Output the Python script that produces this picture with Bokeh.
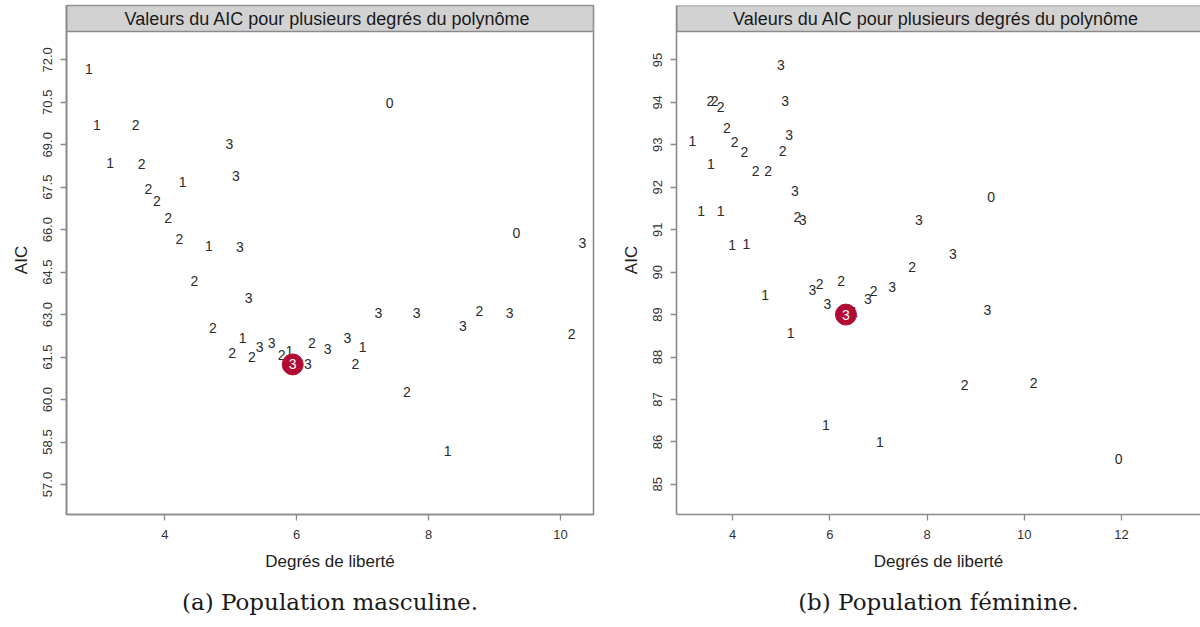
from bokeh.plotting import figure
from bokeh.layouts import row
from bokeh.models import FixedTicker, Title, PrintfTickFormatter
from bokeh.core.properties import value
from bokeh.embed import file_html
from bokeh.resources import INLINE

STRIP_TITLE = "Valeurs du  AIC pour plusieurs degrés du polynôme"
X_LABEL = "Degrés de liberté"
Y_LABEL = "AIC"
CAPTION_A = "(a) Population masculine."
CAPTION_B = "(b) Population féminine."

# ---- Population masculine ----
male_df = [2.85, 7.41, 2.97, 3.56, 4.98, 3.17, 3.65, 5.08, 4.27, 3.75, 3.88, 4.05,
           9.33, 4.22, 4.67, 5.14, 10.33, 4.45, 5.27, 7.24, 7.82, 8.77, 9.23, 8.52,
           10.17, 4.73, 5.18, 5.02, 5.44, 5.62, 5.32, 5.77, 5.89, 5.94, 6.17, 6.23,
           6.47, 6.77, 7.00, 6.89, 7.67, 8.29]
male_aic = [71.68, 70.47, 69.71, 69.68, 69.03, 68.35, 68.33, 67.88, 67.68, 67.42, 67.00, 66.42,
            65.87, 65.68, 65.44, 65.38, 65.52, 64.17, 63.60, 63.07, 63.04, 63.14, 63.04, 62.61,
            62.33, 62.51, 62.19, 61.63, 61.84, 61.98, 61.49, 61.56, 61.70, 61.24, 61.24, 62.01,
            61.77, 62.19, 61.84, 61.27, 60.26, 58.20]
male_deg = ["1", "0", "1", "2", "3", "1", "2", "3", "1", "2", "2", "2",
            "0", "2", "1", "3", "3", "2", "3", "3", "3", "2", "3", "3",
            "2", "2", "1", "2", "3", "3", "2", "2", "1", "3", "3", "2",
            "3", "3", "1", "2", "2", "1"]
male_best = 33

# ---- Population féminine ----
female_df = [4.99, 3.54, 3.63, 3.75, 5.08, 3.88, 3.17, 5.16, 4.04, 4.24, 5.03, 3.55,
             4.47, 4.73, 5.28, 9.32, 3.35, 3.75, 5.33, 5.44, 7.83, 3.99, 4.28, 8.53,
             7.69, 4.67, 5.64, 5.79, 6.23, 5.95, 6.50, 6.33, 6.78, 6.90, 7.28, 9.24,
             5.19, 8.77, 10.19, 5.92, 7.03, 11.94]
female_aic = [94.87, 94.04, 94.04, 93.90, 94.04, 93.40, 93.10, 93.24, 93.06, 92.82, 92.85, 92.55,
              92.38, 92.38, 91.91, 91.76, 91.45, 91.43, 91.29, 91.22, 91.22, 90.63, 90.67, 90.42,
              90.12, 89.47, 89.58, 89.73, 89.79, 89.25, 89.05, 89.00, 89.37, 89.55, 89.65, 89.10,
              88.56, 87.35, 87.38, 86.39, 86.00, 85.60]
female_deg = ["3", "2", "2", "2", "3", "2", "1", "3", "2", "2", "2", "1",
              "2", "2", "3", "0", "1", "1", "2", "3", "3", "1", "1", "3",
              "2", "1", "3", "2", "2", "3", "1", "3", "3", "2", "3", "3",
              "1", "2", "2", "1", "1", "0"]
female_best = 31

male_xticks = [4, 6, 8, 10]
male_yticks = [57.0, 58.5, 60.0, 61.5, 63.0, 64.5, 66.0, 67.5, 69.0, 70.5, 72.0]
female_xticks = [4, 6, 8, 10, 12, 14]
female_yticks = [85, 86, 87, 88, 89, 90, 91, 92, 93, 94, 95]

GRAY = "#8a8a8a"
TXT = "#2b2b2b"
RED = "#b10b33"
STRIP_PX = 26.0
PLOT_PX = 483.0


def panel(df, aic, deg, best, xr, yr, xticks, yticks, yfmt, caption,
          border_left, border_right, show_outline, strip_extra):
    y_top = yr[1] + (yr[1] - yr[0]) * STRIP_PX / PLOT_PX
    p = figure(width=600, height=627, x_range=xr, y_range=(yr[0], y_top),
               output_backend="svg", toolbar_location=None,
               min_border_left=border_left, min_border_right=border_right,
               min_border_top=5, min_border_bottom=113)
    p.grid.visible = False
    p.background_fill_color = "white"
    p.border_fill_color = "white"
    if show_outline:
        p.outline_line_color = GRAY
        p.outline_line_width = 1.6
    else:
        p.outline_line_color = None

    for ax in (p.xaxis[0], p.yaxis[0]):
        ax.axis_line_color = GRAY
        ax.axis_line_width = 1.6
        ax.major_tick_line_color = GRAY
        ax.major_tick_line_width = 1.3
        ax.major_tick_out = 6
        ax.major_tick_in = 0
        ax.minor_tick_line_color = None
        ax.major_label_text_font = "Liberation Sans"
        ax.major_label_text_font_size = "13px"
        ax.major_label_text_color = "#333333"
        ax.axis_label_text_font = "Liberation Sans"
        ax.axis_label_text_font_style = "normal"
        ax.axis_label_text_font_size = "17px"
        ax.axis_label_text_color = "#222222"

    p.xaxis.ticker = FixedTicker(ticks=xticks)
    p.yaxis.ticker = FixedTicker(ticks=yticks)
    p.yaxis.formatter = PrintfTickFormatter(format=yfmt)
    p.yaxis.major_label_orientation = "vertical"
    p.xaxis.major_label_standoff = 9
    p.yaxis.major_label_standoff = 8
    p.xaxis.axis_label = X_LABEL
    p.yaxis.axis_label = Y_LABEL
    p.xaxis.axis_label_standoff = 10
    p.yaxis.axis_label_standoff = 10

    # strip header
    p.quad(left=[xr[0]], right=[xr[1] + strip_extra], bottom=[yr[1]], top=[y_top],
           fill_color="#d2d2d2", line_color=GRAY, line_width=1.6)
    p.text(x=[(xr[0] + xr[1]) / 2.0], y=[(yr[1] + y_top) / 2.0],
           text=[STRIP_TITLE], text_align="center", text_baseline="middle",
           text_font=value("Liberation Sans"), text_font_size="18px", text_color="#1a1a1a")

    # degree labels
    p.text(x=df, y=aic, text=deg, text_align="center", text_baseline="middle",
           text_font=value("Liberation Sans"), text_font_size="14px", text_color=TXT)

    # selected model
    p.scatter(x=[df[best]], y=[aic[best]], size=21, marker="circle",
              fill_color=RED, line_color=RED)
    p.text(x=[df[best]], y=[aic[best]], text=[deg[best]], text_align="center",
           text_baseline="middle", text_font=value("Liberation Sans"),
           text_font_size="14px", text_color="white")

    cap = Title(text=caption, align="center", text_font="DejaVu Serif",
                text_font_style="normal", text_font_size="23px", text_color="#1a1a1a",
                standoff=26)
    p.add_layout(cap, "below")
    return p


p1 = panel(male_df, male_aic, male_deg, male_best, (2.51, 10.50), (55.94, 73.0),
           male_xticks, male_yticks, "%.1f", CAPTION_A, 66, 7, True, 0.0)
p2 = panel(female_df, female_aic, female_deg, female_best, (2.844, 13.625), (84.29, 95.67),
           female_xticks, female_yticks, "%d", CAPTION_B, 76, 0, False, 1.0)

layout = row(p1, p2)
open("out.html", "w").write(file_html(layout, INLINE))
